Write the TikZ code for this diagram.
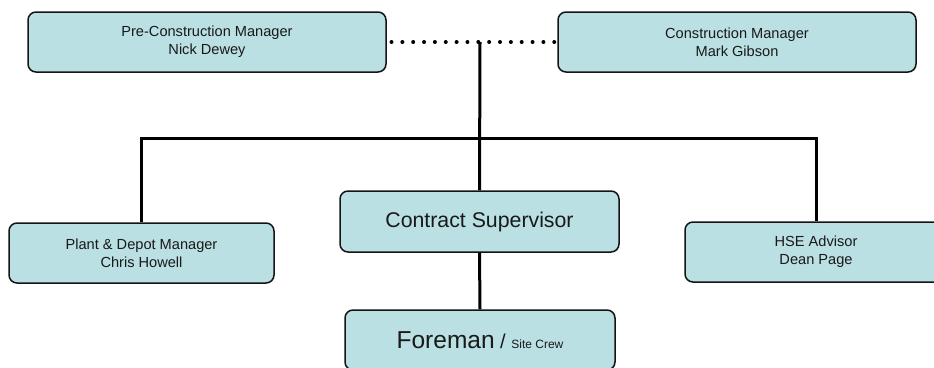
\documentclass[tikz,border=0pt]{standalone}
\usepackage{fontspec}
\setmainfont{Liberation Sans}
\definecolor{boxfill}{RGB}{186,224,227}
\definecolor{boxline}{RGB}{20,20,20}
\definecolor{txt}{RGB}{25,25,25}
\tikzset{
  rolebox/.style={draw=boxline, fill=boxfill, line width=1.5pt, rounded corners=8pt,
    align=center, text=txt, inner sep=0pt,
    font=\fontsize{14.6}{18.2}\selectfont},
  link/.style={line width=3pt, black},
  peerlink/.style={line width=4pt, black, line cap=round, dash pattern=on 0pt off 10.85pt}
}
\begin{document}
\begin{tikzpicture}[x=1pt, y=-1pt]
  \useasboundingbox (0,0) rectangle (934,367);
  \clip (0,0) rectangle (934,367);

  % management level
  \node[rolebox, minimum width=358pt, minimum height=60pt] (pre) at (207,42)
    {Pre-Construction Manager\\Nick Dewey};
  \node[rolebox, minimum width=358pt, minimum height=60pt] (cm) at (737,42)
    {Construction Manager\\Mark Gibson};

  % staff level
  \node[rolebox, minimum width=265pt, minimum height=60pt] (plant) at (141.5,253)
    {Plant \& Depot Manager\\Chris Howell};
  \node[rolebox, minimum width=279pt, minimum height=61pt,
        font=\fontsize{21.3}{25}\selectfont] (cs) at (479.5,221.5)
    {Contract Supervisor};
  \node[rolebox, minimum width=262pt, minimum height=60pt] (hse) at (816,252)
    {HSE Advisor\\Dean Page};

  % site level
  \node[rolebox, minimum width=270pt, minimum height=60pt] (fm) at (480,340)
    {{\fontsize{24.5}{28}\selectfont Foreman}{\fontsize{20}{24}\selectfont\ / }{\fontsize{12}{14}\selectfont Site Crew}};

  % connectors
  \coordinate (top) at (480,42);
  \coordinate (bus) at (480,138);
  \draw[peerlink] ([xshift=-3pt]cm.west) -- ([xshift=1pt]pre.east);
  \draw[link] (top) -- (cs.north);
  \draw[link] (plant.north) |- (bus) -| (hse.north);
  \draw[link] (cs.south) -- (fm.north);
\end{tikzpicture}
\end{document}
